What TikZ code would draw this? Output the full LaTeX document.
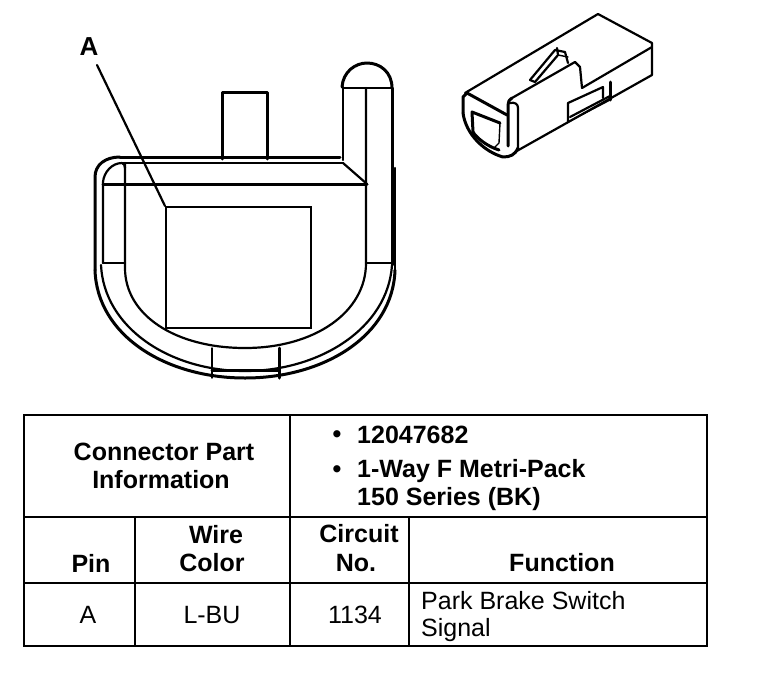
\documentclass[tikz,border=0pt]{standalone}
\usepackage{fontspec}
\setmainfont{Liberation Sans}
\tikzset{
  thick line/.style={line width=3pt,line join=round,line cap=round},
  med line/.style={line width=2.2pt,line join=round,line cap=round},
  thin line/.style={line width=1.4pt,line join=round,line cap=round},
  grid line/.style={line width=2.6pt,line cap=rect},
  head/.style={font=\fontsize{25}{27}\selectfont\bfseries,inner sep=0pt,text=black},
  body/.style={font=\fontsize{25}{27}\selectfont,inner sep=0pt,text=black},
  leftbody/.style={body,anchor=west},
  lefthead/.style={head,anchor=west}
}
\begin{document}
\begin{tikzpicture}[x=1pt,y=-1pt]
\useasboundingbox[fill=white] (0,0) rectangle (768,672);

% --- large connector
\draw[thick line] (222,159) -- (222,92) -- (267,92) -- (267,159);
\draw[thick line] (120,157) -- (340,157);
\draw[med line] (122,163) -- (343,163);
\draw[thick line] (103,184) -- (367,184);
\draw[med line] (343,163) -- (367,184);
% tower
\draw[med line] (343,160) -- (343,87);
\draw[thick line] (342,87) .. controls (343,72) and (355,63) .. (367,63) .. controls (380,63) and (392,72) .. (392,88);
\draw[med line] (343,88) -- (392,88);
\draw[med line] (366,88) -- (366,263) .. controls (366,312) and (315,348) .. (245,348) .. controls (175,348) and (125,315) .. (125,268) -- (125,163);
\draw[thick line] (392,88) -- (392,265);
\draw[med line] (395,168) -- (395,270);
\draw[med line] (366,263) -- (392,263);
\draw[med line] (103,263) -- (125,263);
% left side
\draw[thick line] (95,270) -- (95,177) .. controls (95,165) and (105,157) .. (120,157);
\draw[med line] (103,263) -- (103,182) .. controls (104,172) and (112,163) .. (122,163) .. controls (124,164) and (125,165) .. (125,168);
% outer bands
\draw[thick line] (95,270) .. controls (97,335) and (165,378) .. (245,378) .. controls (325,378) and (393,335) .. (395,270);
\draw[med line] (101,265) .. controls (104,328) and (170,371) .. (245,371) .. controls (320,371) and (388,328) .. (392,265);
% bottom key
\draw[thin line] (212,348) -- (212,378);
\draw[thick line] (279,348) -- (279,378);
\draw[thick line] (212,370) -- (279,370);
% terminal cavity
\node[draw=black,line width=2.3pt,minimum width=145pt,minimum height=121pt,inner sep=0pt,anchor=north west] (cavity) at (165,206) {};
\node[font=\fontsize{26}{28}\selectfont\bfseries,inner sep=0pt] (labelA) at (89,47) {A};
\coordinate (leaderstart) at (97,65);
\draw[med line] (leaderstart) -- (cavity.north west);

% --- small connector
\draw[med line] (465,93) -- (598,14) -- (652,43) -- (652,75) -- (515,152);
\draw[thick line] (463,113) -- (463,97) -- (467,93);
\draw[thick line] (467,93) -- (507,115);
\draw[thick line] (463,113) .. controls (466,135) and (485,152) .. (503,157) .. controls (510,157) and (515,155) .. (518,148);
% ridge and strip
\draw[thick line] (508,146) -- (508,105) .. controls (508,102) and (509,100) .. (512,98);
\draw[med line] (518,148) -- (518,108) .. controls (518,104) and (515,102) .. (510,103);
\draw[med line] (512,98) -- (575,62) -- (580,67) -- (582,88) -- (652,47);
% latch
\draw[med line] (530,80) -- (555,50) -- (565,52) -- (568,63);
\draw[med line] (530,80) -- (535,82) -- (558,55) -- (557,48);
\draw[thin line] (558,55) -- (568,57);
% notch details
\draw[med line] (568,122) -- (568,103) -- (603,87) -- (603,98);
\draw[thick line] (610,82) -- (610,100);
\draw[med line] (570,117) -- (610,96);
\draw[thin line] (568,122) -- (610,100);
% front window
\draw[thick line] (473,132) -- (472,112) -- (500,123);
\draw[thin line] (500,123) -- (499,143) -- (494,148);
\draw[thick line] (473,132) .. controls (476,137) and (486,146) .. (499,150);

% --- table
\coordinate (tl) at (24,415);
\coordinate (br) at (707,646);
\draw[grid line] (tl) rectangle (br);
\draw[grid line] (24,517) -- (707,517);
\draw[grid line] (24,583) -- (707,583);
\draw[grid line] (290,415) -- (290,646);
\draw[grid line] (135,517) -- (135,646);
\draw[grid line] (409,517) -- (409,646);

\node[head] (c1) at (164,452) {Connector Part};
\node[head] (c2) at (161,480) {Information};
\node[head] (b1) at (337,437) {•};
\node[lefthead] (p1) at (357,435) {12047682};
\node[head] (b2) at (337,472) {•};
\node[lefthead] (p2) at (357,471) {1-Way F Metri-Pack};
\node[lefthead] (p3) at (357,499) {150 Series (BK)};
\node[head] (h1) at (91,563) {Pin};
\node[head] (h2a) at (216,535) {Wire};
\node[head] (h2b) at (212,563) {Color};
\node[head] (h3a) at (359,534) {Circuit};
\node[head] (h3b) at (356,563) {No.};
\node[head] (h4) at (562,563) {Function};
\node[body] (d1) at (88,615) {A};
\node[body] (d2) at (212,615) {L-BU};
\node[body] (d3) at (355,615) {1134};
\node[leftbody] (d4) at (421,601) {Park Brake Switch};
\node[leftbody] (d5) at (421,630) {Signal};
\end{tikzpicture}
\end{document}
